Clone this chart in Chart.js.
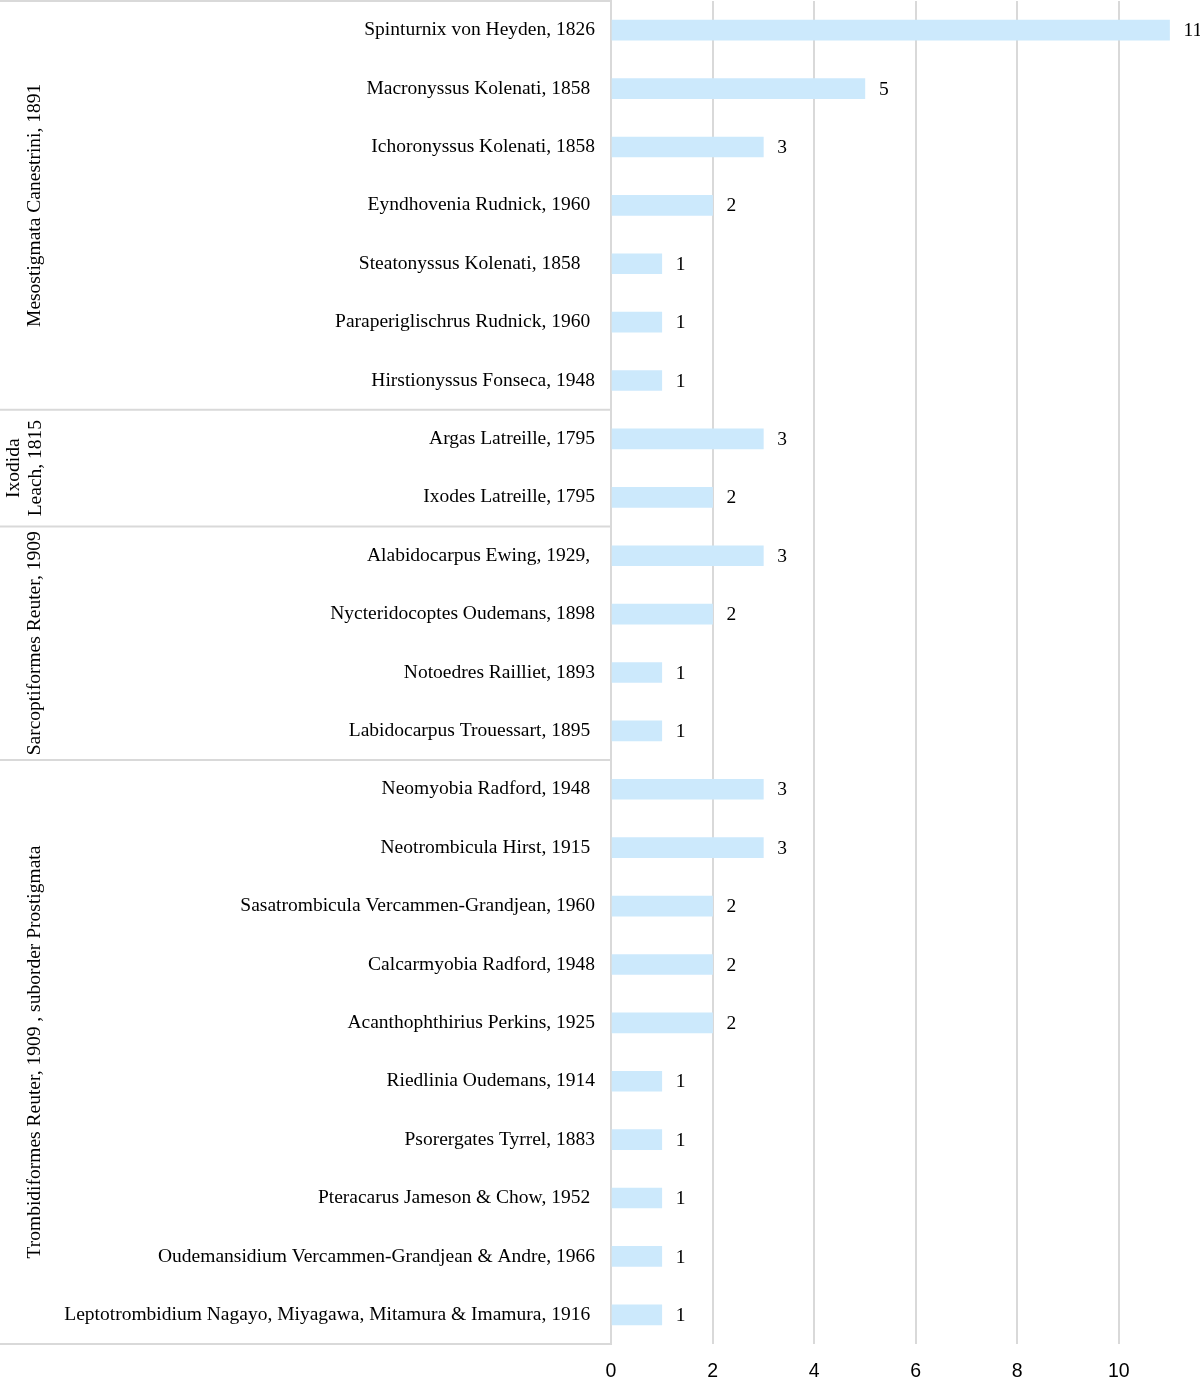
<!DOCTYPE html>
<html>
<head>
<meta charset="utf-8">
<script src="https://cdn.jsdelivr.net/npm/chart.js@4/dist/chart.umd.min.js"></script>
<style>
  html, body { margin: 0; padding: 0; background: #fff; }
  #wrap { width: 1200px; height: 1386px; }
</style>
</head>
<body>
<div id="wrap"><canvas id="miteChart"></canvas></div>
<script>
// Data
const genera = [
    'Spinturnix von Heyden, 1826',
    'Macronyssus Kolenati, 1858 ',
    'Ichoronyssus Kolenati, 1858',
    'Eyndhovenia Rudnick, 1960 ',
    'Steatonyssus Kolenati, 1858   ',
    'Paraperiglischrus Rudnick, 1960 ',
    'Hirstionyssus Fonseca, 1948',
    'Argas Latreille, 1795',
    'Ixodes Latreille, 1795',
    'Alabidocarpus Ewing, 1929, ',
    'Nycteridocoptes Oudemans, 1898',
    'Notoedres Railliet, 1893',
    'Labidocarpus Trouessart, 1895 ',
    'Neomyobia Radford, 1948 ',
    'Neotrombicula Hirst, 1915 ',
    'Sasatrombicula Vercammen-Grandjean, 1960',
    'Calcarmyobia Radford, 1948',
    'Acanthophthirius Perkins, 1925',
    'Riedlinia Oudemans, 1914',
    'Psorergates Tyrrel, 1883',
    'Pteracarus Jameson & Chow, 1952 ',
    'Oudemansidium Vercammen-Grandjean & Andre, 1966',
    'Leptotrombidium Nagayo, Miyagawa, Mitamura & Imamura, 1916 '
];
const counts = [11, 5, 3, 2, 1, 1, 1, 3, 2, 3, 2, 1, 1, 3, 3, 2, 2, 2, 1, 1, 1, 1, 1];

// Orders: label lines and number of genera in each
const groupNames = [
    ['Mesostigmata Canestrini, 1891'],
    ['Ixodida', 'Leach, 1815'],
    ['Sarcoptiformes Reuter, 1909'],
    ['Trombidiformes Reuter, 1909 , suborder Prostigmata']
];
const groupSizes = [7, 2, 4, 10];

const xTicks = [0, 2, 4, 6, 8, 10];

const serif = '"Liberation Serif", "Times New Roman", serif';
const lineColor = '#d9d9d9';

// Value labels at the end of each bar
const valueLabels = {
    id: 'valueLabels',
    afterDatasetsDraw(chart) {
        const ctx = chart.ctx;
        const meta = chart.getDatasetMeta(0);
        ctx.save();
        ctx.font = '19.5px ' + serif;
        ctx.fillStyle = '#000';
        ctx.textAlign = 'left';
        ctx.textBaseline = 'middle';
        meta.data.forEach((bar, i) => {
            ctx.fillText(String(counts[i]), bar.x + 14, bar.y + 1);
        });
        ctx.restore();
    }
};

// Group box on the left with rotated order names
const groupBoxes = {
    id: 'groupBoxes',
    afterDraw(chart) {
        const ctx = chart.ctx;
        const y = chart.scales.y;
        const left = chart.chartArea.left;
        ctx.save();
        ctx.strokeStyle = lineColor;
        ctx.lineWidth = 2;
        let start = 0;
        const edges = [y.getPixelForValue(-0.5)];
        groupSizes.forEach(n => {
            start += n;
            edges.push(y.getPixelForValue(start - 0.5));
        });
        edges.forEach(e => {
            ctx.beginPath();
            ctx.moveTo(0, e);
            ctx.lineTo(left, e);
            ctx.stroke();
        });

        ctx.font = '19.5px ' + serif;
        ctx.fillStyle = '#000';
        ctx.textAlign = 'center';
        ctx.textBaseline = 'middle';
        groupNames.forEach((lines, g) => {
            const mid = (edges[g] + edges[g + 1]) / 2;
            const x0 = 35 - (lines.length - 1) * 21;
            lines.forEach((txt, k) => {
                ctx.save();
                ctx.translate(x0 + k * 22, mid);
                ctx.rotate(-Math.PI / 2);
                ctx.fillText(txt, 0, 0);
                ctx.restore();
            });
        });
        ctx.restore();
    }
};

const ctx = document.getElementById('miteChart').getContext('2d');
new Chart(ctx, {
    type: 'bar',
    data: {
        labels: genera,
        datasets: [{
            data: counts,
            backgroundColor: 'rgb(204, 233, 252)',
            barThickness: 20
        }]
    },
    options: {
        indexAxis: 'y',
        responsive: true,
        maintainAspectRatio: false,
        animation: false,
        layout: { padding: { top: 1, right: 0, bottom: 3, left: 0 } },
        scales: {
            x: {
                min: 0,
                max: 11.6,
                grid: {
                    color: lineColor,
                    lineWidth: 2,
                    drawTicks: false
                },
                border: { display: false },
                afterFit(scale) {
                    scale.height = 39;
                    scale.paddingLeft = 0;
                    scale.paddingRight = 0;
                    scale.paddingTop = 0;
                    scale.paddingBottom = 0;
                },
                ticks: {
                    stepSize: 2,
                    includeBounds: false,
                    padding: 16,
                    color: '#000',
                    font: { family: '"Liberation Sans", Arial, sans-serif', size: 19.5 },
                    callback: v => xTicks.includes(v) ? String(v) : ''
                }
            },
            y: {
                grid: { display: false, drawTicks: false },
                border: { display: true, color: lineColor, width: 2 },
                afterFit(scale) {
                    scale.width = 611;
                    scale.paddingTop = 0;
                    scale.paddingBottom = 0;
                },
                ticks: {
                    padding: 16,
                    color: '#000',
                    autoSkip: false,
                    font: { family: serif, size: 19.5 }
                }
            }
        },
        plugins: {
            legend: { display: false },
            tooltip: { enabled: false }
        }
    },
    plugins: [valueLabels, groupBoxes]
});
</script>
</body>
</html>
